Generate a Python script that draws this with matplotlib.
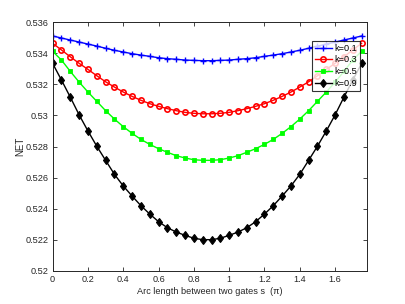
import matplotlib
matplotlib.use("Agg")
import matplotlib.pyplot as plt

plt.rcParams['font.family'] = ['Liberation Sans', 'DejaVu Sans']

s = [0.00, 0.05, 0.10, 0.15, 0.20, 0.25, 0.30, 0.35, 0.40, 0.45, 0.50, 0.55,
     0.60, 0.65, 0.70, 0.75, 0.80, 0.85, 0.90, 0.95, 1.00, 1.05, 1.10, 1.15,
     1.20, 1.25, 1.30, 1.35, 1.40, 1.45, 1.50, 1.55, 1.60, 1.65, 1.70, 1.75]

net_k01 = [0.53512, 0.53499, 0.53486, 0.53473, 0.53460, 0.53447, 0.53433, 0.53420,
           0.53409, 0.53398, 0.53389, 0.53381, 0.53372, 0.53366, 0.53362, 0.53357,
           0.53355, 0.53353, 0.53353, 0.53355, 0.53357, 0.53362, 0.53366, 0.53372,
           0.53381, 0.53389, 0.53398, 0.53409, 0.53420, 0.53433, 0.53447, 0.53460,
           0.53473, 0.53486, 0.53499, 0.53512]
net_k03 = [0.53465, 0.53422, 0.53378, 0.53336, 0.53297, 0.53256, 0.53217, 0.53183,
           0.53151, 0.53123, 0.53098, 0.53076, 0.53059, 0.53044, 0.53031, 0.53020,
           0.53014, 0.53011, 0.53011, 0.53014, 0.53020, 0.53031, 0.53044, 0.53059,
           0.53076, 0.53098, 0.53123, 0.53151, 0.53183, 0.53217, 0.53256, 0.53297,
           0.53336, 0.53378, 0.53422, 0.53465]
net_k05 = [0.53413, 0.53357, 0.53284, 0.53215, 0.53151, 0.53091, 0.53031, 0.52977,
           0.52928, 0.52885, 0.52846, 0.52814, 0.52786, 0.52763, 0.52741, 0.52726,
           0.52715, 0.52711, 0.52711, 0.52715, 0.52726, 0.52741, 0.52763, 0.52786,
           0.52814, 0.52846, 0.52885, 0.52928, 0.52977, 0.53031, 0.53091, 0.53151,
           0.53215, 0.53284, 0.53357, 0.53413]
net_k09 = [0.53335, 0.53228, 0.53118, 0.53004, 0.52900, 0.52802, 0.52711, 0.52621,
           0.52546, 0.52481, 0.52419, 0.52365, 0.52316, 0.52277, 0.52249, 0.52228,
           0.52209, 0.52200, 0.52200, 0.52209, 0.52228, 0.52249, 0.52277, 0.52316,
           0.52365, 0.52419, 0.52481, 0.52546, 0.52621, 0.52711, 0.52802, 0.52900,
           0.53004, 0.53118, 0.53228, 0.53335]

labels = ['k=0.1', 'k=0.3', 'k=0.5', 'k=0.9']
xticks = [0, 0.2, 0.4, 0.6, 0.8, 1.0, 1.2, 1.4, 1.6]
xtick_labels = ['0', '0.2', '0.4', '0.6', '0.8', '1', '1.2', '1.4', '1.6']
yticks = [0.52, 0.522, 0.524, 0.526, 0.528, 0.53, 0.532, 0.534, 0.536]
ytick_labels = ['0.52', '0.522', '0.524', '0.526', '0.528', '0.53', '0.532', '0.534', '0.536']

fig = plt.figure(figsize=(4.05, 3.04), dpi=100)
ax = fig.add_axes([0.130, 0.1095, 0.775, 0.817])

ax.plot(s, net_k01, color='#0000ff', marker='+', markersize=5, markeredgewidth=1.0, lw=1.0, label=labels[0])
ax.plot(s, net_k03, color='#ff0000', marker='o', markersize=3.8, markerfacecolor='none', markeredgewidth=1.2, lw=1.0, label=labels[1])
ax.plot(s, net_k05, color='#00ff00', marker='s', markersize=3.4, markerfacecolor='#00ff00', markeredgewidth=0.6, lw=1.0, label=labels[2])
ax.plot(s, net_k09, color='#000000', marker='d', markersize=4.5, markerfacecolor='#000000', markeredgewidth=0.8, lw=1.0, label=labels[3])

ax.set_xlim(0, 1.778)
ax.set_ylim(0.52, 0.536)
ax.set_xticks(xticks)
ax.set_xticklabels(xtick_labels)
ax.set_yticks(yticks)
ax.set_yticklabels(ytick_labels)

tc = '#262626'
ax.tick_params(direction='in', top=True, right=True, length=3, width=0.6,
               labelsize=6.6, colors=tc, pad=3)
for sp in ax.spines.values():
    sp.set_color(tc)
    sp.set_linewidth(0.7)

ax.set_xlabel('Arc length between two gates s  (π)', fontsize=6.6, color=tc, labelpad=2)
ax.set_ylabel('NET', fontsize=7, color=tc, labelpad=0)

leg = ax.legend(loc='upper right', bbox_to_anchor=(0.979, 0.925), fontsize=6.6,
                frameon=True, fancybox=False, borderpad=0.3, labelspacing=0.3,
                handlelength=1.8, handletextpad=0.3, borderaxespad=0.0)
leg.get_frame().set_edgecolor('#000000')
leg.get_frame().set_linewidth(0.8)

fig.savefig('out.png', dpi=100)
